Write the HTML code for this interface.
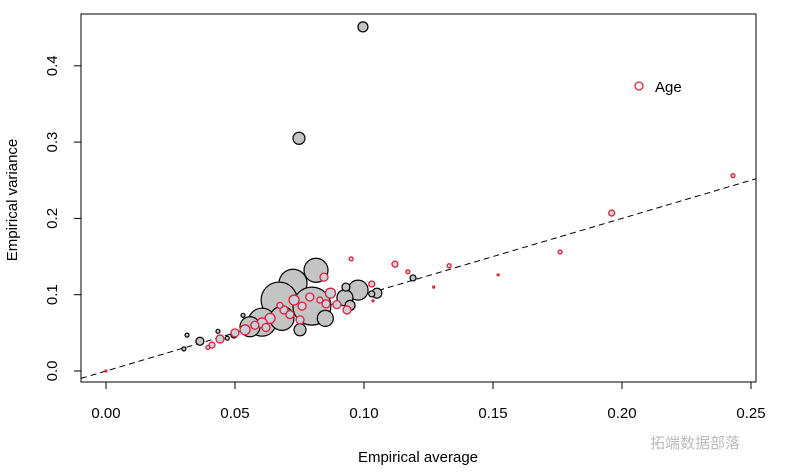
<!DOCTYPE html>
<html><head><meta charset="utf-8"><style>
html,body{margin:0;padding:0;background:#fff;}
svg{display:block;font-family:"Liberation Sans",Arial,sans-serif;}
</style></head><body>
<svg id="chart" width="788" height="475" viewBox="0 0 788 475" xmlns="http://www.w3.org/2000/svg">
<rect x="81" y="14" width="675" height="368" fill="none" stroke="#000" stroke-width="1"/>
<g id="axes"></g>
<g id="marks"></g>
<text x="418" y="462" font-size="15" text-anchor="middle">Empirical average</text>
<text x="0" y="0" font-size="15" text-anchor="middle" transform="translate(17,200) rotate(-90)">Empirical variance</text>
<g>
<circle cx="639" cy="86" r="4" fill="none" stroke="#e0203a" stroke-width="1.3"/>
<text x="655" y="92" font-size="15">Age</text>
</g>
<text x="650" y="448" font-size="15" fill="#bbb" font-family="Liberation Sans, 'Noto Sans CJK SC', sans-serif">拓端数据部落</text>
</svg>
<script>
const xTicks=[0,0.05,0.10,0.15,0.20,0.25];
const xTickLabels=["0.00","0.05","0.10","0.15","0.20","0.25"];
const yTicks=[0,0.1,0.2,0.3,0.4];
const yTickLabels=["0.0","0.1","0.2","0.3","0.4"];
const greyX=[0.0996,0.0748,0.0814,0.0725,0.0671,0.0798,0.0977,0.0605,0.0682,0.0558,0.0926,0.105,0.093,0.119,0.103,0.0364,0.0314,0.0302,0.0434,0.0496,0.047,0.0531,0.0752,0.085,0.0946];
const greyY=[0.451,0.305,0.132,0.115,0.093,0.085,0.106,0.064,0.069,0.058,0.096,0.102,0.110,0.122,0.101,0.039,0.047,0.029,0.052,0.047,0.043,0.073,0.054,0.069,0.086];
const greySize=[5,6,12,14,18,19,10,14,12,10,8,5,4,3,3,4,2,2,2,3,2,2,6,8,5];
const redX=[0.243,0.196,0.176,0.152,0.133,0.127,0.117,0.112,0.095,0.103,0.0845,0.087,0.0895,0.0934,0.079,0.0729,0.0690,0.0636,0.0605,0.0577,0.0539,0.0500,0.0442,0.0411,0.0395,0,0.1035,0.0674,0.0713,0.0752,0.0829,0.0853,0.0760,0.0620];
const redY=[0.256,0.207,0.156,0.126,0.138,0.110,0.130,0.140,0.147,0.114,0.123,0.102,0.087,0.080,0.097,0.093,0.080,0.069,0.063,0.060,0.054,0.050,0.042,0.034,0.031,0,0.092,0.086,0.074,0.067,0.093,0.088,0.085,0.057];
const redSize=[2,3,2,1,2,1,2,3,2,3,4,5,4,4,4,5,4,5,5,4,5,4,4,3,2,1,1,3,4,4,3,4,4,4];
const X0=106,XS=2580,Y0=371,YS=763;
const sx=v=>X0+v*XS, sy=v=>Y0-v*YS;
const NS="http://www.w3.org/2000/svg";
const axes=document.getElementById('axes'), marks=document.getElementById('marks');
function mk(t,a,p){const e=document.createElementNS(NS,t);for(const k in a)e.setAttribute(k,a[k]);p.appendChild(e);return e;}
xTicks.forEach((v,i)=>{
 const l=mk('line',{x1:sx(v),x2:sx(v),y1:382,y2:389,stroke:'#000'},axes);
 
 
 const t=mk('text',{x:sx(v),y:418,'font-size':15,'text-anchor':'middle'},axes);t.textContent=xTickLabels[i];
 
 
});
yTicks.forEach((v,i)=>{
 const l=mk('line',{x1:74,x2:81,y1:sy(v),y2:sy(v),stroke:'#000'},axes);
 
 
 const t=mk('text',{x:0,y:0,'font-size':15,'text-anchor':'middle',transform:`translate(57,${sy(v)}) rotate(-90)`},axes);t.textContent=yTickLabels[i];
 
 
});
const ref=mk('line',{x1:81,y1:sy((81-X0)/XS),x2:756,y2:sy((756-X0)/XS),stroke:'#000','stroke-dasharray':'6,4','stroke-width':1},marks);


greyX.forEach((v,i)=>{
 const c=mk('circle',{cx:sx(v),cy:sy(greyY[i]),r:greySize[i],fill:'#c4c4c4',stroke:'#000','stroke-width':1.2},marks);
 
 
});
redX.forEach((v,i)=>{
 const c=mk('circle',{cx:sx(v),cy:sy(redY[i]),r:redSize[i],fill:'#c8d2dc',stroke:'#e0203a','stroke-width':1.3},marks);
 
 
});
</script>
</body></html>
